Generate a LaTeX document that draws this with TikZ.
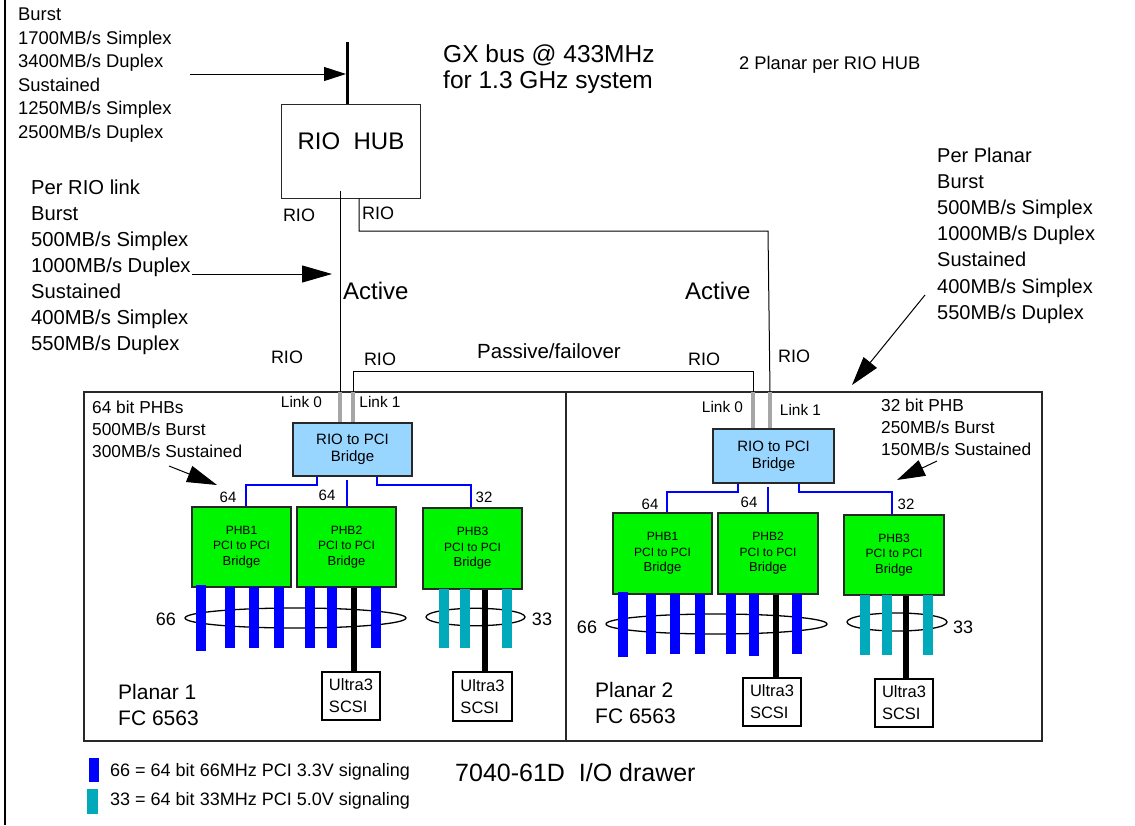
\documentclass[tikz,border=0pt]{standalone}
\usepackage{fontspec}
\setmainfont{Liberation Sans}
\usetikzlibrary{arrows.meta,calc}
\definecolor{pciblue}{RGB}{0,0,255}
\definecolor{pcigreen}{RGB}{0,245,0}
\definecolor{bridgeblue}{RGB}{153,214,255}
\definecolor{pciteal}{RGB}{0,170,187}
\definecolor{linkgray}{RGB}{166,166,166}
\definecolor{edgegray}{RGB}{40,40,40}
\newcommand\myfs[1]{\fontsize{#1}{#1}\selectfont}
\begin{document}
\begin{tikzpicture}[x=1pt,y=-1pt,
  txt/.style={anchor=base west,inner sep=0pt},
  ctxt/.style={anchor=center,inner sep=0pt},
  wire/.style={draw=black,line width=1pt},
  bus/.style={draw=pciblue,line width=2.8pt},
  linkbar/.style={draw=linkgray,line width=4.5pt},
  scsi/.style={draw=black,line width=5.5pt},
  bigarrow/.style={draw=black,line width=1pt,-{Triangle[length=#1,width=17pt]}},
  gxarrow/.style={draw=black,line width=1pt,-{Triangle[length=22pt,width=14pt]}},
  thinbox/.style={draw=edgegray,line width=0.9pt,inner sep=0pt},
  bridgebox/.style={draw=edgegray,line width=1.6pt,fill=bridgeblue,inner sep=0pt,
     minimum height=53pt,align=center,font=\fontsize{15}{17}\selectfont},
  phbbox/.style={draw=edgegray,line width=1.6pt,fill=pcigreen,inner sep=0pt,
     minimum height=80pt,align=center,font=\fontsize{12}{15.5}\selectfont},
  ultrabox/.style={draw=black,line width=1.2pt,fill=white,inner sep=0pt,
     minimum width=58pt,minimum height=48pt,align=left,font=\fontsize{16.5}{22}\selectfont},
  slot/.style={fill=pciblue},
  slott/.style={fill=pciteal},
  ring/.style={draw=black,line width=1.3pt}
]
\useasboundingbox (0,0) rectangle (1135,825);

% page edge line
\coordinate (edgeTop) at (5,0);
\coordinate (edgeBot) at (5,825);
\draw[line width=1.3pt] (edgeTop) -- (edgeBot);

% ---------- top-left GX figures ----------
\foreach \t [count=\i] in {Burst,1700MB/s Simplex,3400MB/s Duplex,Sustained,1250MB/s Simplex,2500MB/s Duplex}
  \node[txt,font=\myfs{18.4}] (gx\i) at (18,{20.7+23.5*(\i-1)}) {\t};

\node[txt,font=\myfs{24.5}] (gxa) at (443,62) {GX bus @ 433MHz};
\node[txt,font=\myfs{24.5}] (gxb) at (443,88) {for 1.3 GHz system};
\node[txt,font=\myfs{18.3}] (twoplanar) at (739,69) {2 Planar per RIO HUB};

% RIO HUB
\node[thinbox,minimum width=139pt,minimum height=94pt] (hub) at (350.5,151) {};
\node[anchor=base,inner sep=0pt,font=\myfs{24}] (hubt) at (351,149) {RIO\ \ HUB};

\coordinate (gxtop) at (347,42);
\draw[line width=3pt] (gxtop) -- (347,0 |- hub.north);
\coordinate (gxarrowstart) at (190,74);
\coordinate (gxarrowtip) at (346,74);
\draw[gxarrow] (gxarrowstart) -- (gxarrowtip);

% RIO labels
\node[anchor=base,inner sep=0pt,font=\myfs{18}] (rioA) at (299,221) {RIO};
\node[anchor=base,inner sep=0pt,font=\myfs{18}] (rioB) at (378,219) {RIO};
\node[anchor=base,inner sep=0pt,font=\myfs{18}] (rioC) at (287,363) {RIO};
\node[anchor=base,inner sep=0pt,font=\myfs{18}] (rioD) at (380,365) {RIO};
\node[anchor=base,inner sep=0pt,font=\myfs{18}] (rioE) at (704,365) {RIO};
\node[anchor=base,inner sep=0pt,font=\myfs{18}] (rioF) at (794,362) {RIO};
\node[anchor=base,inner sep=0pt,font=\myfs{20.5}] (passive) at (549,358) {Passive/failover};
\node[txt,font=\myfs{24}] (active1) at (343,299) {Active};
\node[txt,font=\myfs{24}] (active2) at (685,299) {Active};

% Per RIO link block
\foreach \t [count=\i] in {Per RIO link,Burst,500MB/s Simplex,1000MB/s Duplex,Sustained,400MB/s Simplex,550MB/s Duplex}
  \node[txt,font=\myfs{20.2}] (rl\i) at (31,{194.3+25.95*(\i-1)}) {\t};
\coordinate (rlstart) at (192,274);
\coordinate (rltip) at (332,274);
\draw[bigarrow=30pt] (rlstart) -- (rltip);

% Per Planar block
\foreach \t [count=\i] in {Per Planar,Burst,500MB/s Simplex,1000MB/s Duplex,Sustained,400MB/s Simplex,550MB/s Duplex}
  \node[txt,font=\myfs{20}] (pp\i) at (937,{162.3+26.17*(\i-1)}) {\t};
\coordinate (ppstart) at (925,295);
\coordinate (pptip) at (852,385);
\draw[bigarrow=29pt] (ppstart) -- (pptip);

% ---------- planar enclosure ----------
\coordinate (encTL) at (84,392);
\coordinate (encBR) at (1042,741);
\draw[draw=edgegray,line width=1.5pt] (encTL) rectangle (encBR);
\coordinate (divT) at (566,392);
\coordinate (divB) at (566,741);
\draw[draw=edgegray,line width=1.2pt] (divT) -- (divB);

% link points
\coordinate (p1l0) at (340,392);
\coordinate (p1l1) at (353,392);
\coordinate (p2l0) at (753,392);
\coordinate (p2l1) at (770,392);

% RIO cables
\draw[wire] ($(hub.south -| p1l0)+(0,-7)$) -- (p1l0);
\draw[wire] (359,0 |- hub.south) -- (359,231) -- (768,231) -- (p2l1);
\draw[wire] (p1l1) -- (353,371) -- (753,371) -- (p2l0);

% ---------- Planar 1 ----------
\node[bridgebox,minimum width=119pt] (br1) at (352.5,449.5) {RIO to PCI\\Bridge};
\draw[linkbar] (p1l0) -- (p1l0 |- br1.north);
\draw[linkbar] (p1l1) -- (p1l1 |- br1.north);
\node[font=\myfs{15.4},anchor=center,inner sep=0pt] (lk10) at (301.5,402) {Link 0};
\node[font=\myfs{15.4},anchor=center,inner sep=0pt] (lk11) at (380,402) {Link 1};

\node[phbbox,minimum width=99pt] (p1a) at (241.5,547) {PHB1\\PCI to PCI\\{\myfs{13}Bridge}};
\node[phbbox,minimum width=99pt] (p1b) at (346.5,547) {PHB2\\PCI to PCI\\{\myfs{13}Bridge}};
\node[phbbox,minimum width=99pt,minimum height=81pt] (p1c) at (472.5,548.5) {PHB3\\PCI to PCI\\{\myfs{13}Bridge}};

\draw[bus] (317,0 |- br1.south) -- (317,485) -- (246,485) -- (246,0 |- p1a.north);
\draw[bus] (347,480) -- (347,0 |- p1b.north);
\draw[bus] (377,0 |- br1.south) -- (377,485) -- (471,485) -- (471,0 |- p1c.north);
\node[ctxt,font=\myfs{15}] (n1a) at (228,497) {64};
\node[ctxt,font=\myfs{15}] (n1b) at (327,495) {64};
\node[ctxt,font=\myfs{15}] (n1c) at (484,497) {32};

\foreach \t [count=\i] in {64 bit PHBs,500MB/s Burst,300MB/s Sustained}
  \node[txt,font=\myfs{17.3}] (phbnote\i) at (92,{413.3+22.2*(\i-1)}) {\t};
\coordinate (a1start) at (169,466);
\coordinate (a1tip) at (217,485);
\draw[bigarrow=30pt] (a1start) -- (a1tip);

% rings
\draw[ring] (295.5,618) ellipse [x radius=110.5, y radius=10];
\draw[ring] (475.5,617) ellipse [x radius=49.5, y radius=8.7];
\node[ctxt,font=\myfs{18}] (r1a) at (166,619) {66};
\node[ctxt,font=\myfs{18}] (r1b) at (542,619) {33};

% slots
\fill[slot] (196,585) rectangle (206,651);
\foreach \x in {230,254,279,310,332,376}
  \fill[slot] (\x-5,587) rectangle (\x+5,648);
\foreach \x in {444,465,507}
  \fill[slott] (\x-5,589) rectangle (\x+5,648);

\node[ultrabox] (u1a) at (351,696) {Ultra3\\SCSI};
\node[ultrabox,minimum width=59pt,minimum height=49pt] (u1b) at (482.5,696.5) {Ultra3\\SCSI};
\draw[scsi] (354,0 |- p1b.south) -- (354,0 |- u1a.north);
\draw[scsi] (485,0 |- p1c.south) -- (485,0 |- u1b.north);

\node[txt,font=\myfs{21}] (pl1a) at (118,699.3) {Planar 1};
\node[txt,font=\myfs{21}] (pl1b) at (118,725.7) {FC 6563};

% ---------- Planar 2 ----------
\node[bridgebox,minimum width=121pt,minimum height=54pt] (br2) at (773.5,456) {RIO to PCI\\Bridge};
\draw[linkbar] (p2l0) -- (p2l0 |- br2.north);
\draw[linkbar] (p2l1) -- (p2l1 |- br2.north);
\node[font=\myfs{15.4},anchor=center,inner sep=0pt] (lk20) at (722.5,407) {Link 0};
\node[font=\myfs{15.4},anchor=center,inner sep=0pt] (lk21) at (800.5,410) {Link 1};

\node[phbbox,minimum width=99pt,minimum height=81pt] (p2a) at (662.5,553.5) {PHB1\\PCI to PCI\\{\myfs{13}Bridge}};
\node[phbbox,minimum width=100pt,minimum height=81pt] (p2b) at (768,553.5) {PHB2\\PCI to PCI\\{\myfs{13}Bridge}};
\node[phbbox,minimum width=100pt] (p2c) at (894,555) {PHB3\\PCI to PCI\\{\myfs{13}Bridge}};

\draw[bus] (738,0 |- br2.south) -- (738,492) -- (667,492) -- (667,0 |- p2a.north);
\draw[bus] (768,487) -- (768,0 |- p2b.north);
\draw[bus] (799,0 |- br2.south) -- (799,492) -- (892,492) -- (892,0 |- p2c.north);
\node[ctxt,font=\myfs{15}] (n2a) at (650,504) {64};
\node[ctxt,font=\myfs{15}] (n2b) at (749,502) {64};
\node[ctxt,font=\myfs{15}] (n2c) at (906,504) {32};

\foreach \t [count=\i] in {32 bit PHB,250MB/s Burst,150MB/s Sustained}
  \node[txt,font=\myfs{17.3}] (phb2note\i) at (881,{411+22*(\i-1)}) {\t};
\coordinate (a2start) at (937,461);
\coordinate (a2tip) at (897,480);
\draw[bigarrow=28pt] (a2start) -- (a2tip);

\draw[ring] (716.5,624) ellipse [x radius=110.5, y radius=10];
\draw[ring] (897,622) ellipse [x radius=50, y radius=9];
\node[ctxt,font=\myfs{18}] (r2a) at (587,627) {66};
\node[ctxt,font=\myfs{18}] (r2b) at (963,627) {33};

\fill[slot] (618,592) rectangle (628,657);
\foreach \x in {651,675,700,731,797}
  \fill[slot] (\x-5,594) rectangle (\x+5,654);
\fill[slot] (749,594) rectangle (759,656);
\foreach \x in {865,887,928}
  \fill[slott] (\x-5,595) rectangle (\x+5,655);

\node[ultrabox] (u2a) at (772,702) {Ultra3\\SCSI};
\node[ultrabox] (u2b) at (904,703) {Ultra3\\SCSI};
\draw[scsi] (776,0 |- p2b.south) -- (776,0 |- u2a.north);
\draw[scsi] (906,0 |- p2c.south) -- (906,0 |- u2b.north);

\node[txt,font=\myfs{21}] (pl2a) at (595,697.3) {Planar 2};
\node[txt,font=\myfs{21}] (pl2b) at (595,723.3) {FC 6563};

% ---------- legend ----------
\fill[pciblue] (89,758) rectangle (99,782);
\fill[pciteal] (87,789) rectangle (98,814);
\node[txt,font=\myfs{18}] (leg66) at (110,776.7) {66 = 64 bit 66MHz PCI 3.3V signaling};
\node[txt,font=\myfs{18}] (leg33) at (110,805.7) {33 = 64 bit 33MHz PCI 5.0V signaling};
\node[txt,font=\myfs{25}] (drawer) at (455,781) {7040-61D\ \ I/O drawer};

\end{tikzpicture}
\end{document}
